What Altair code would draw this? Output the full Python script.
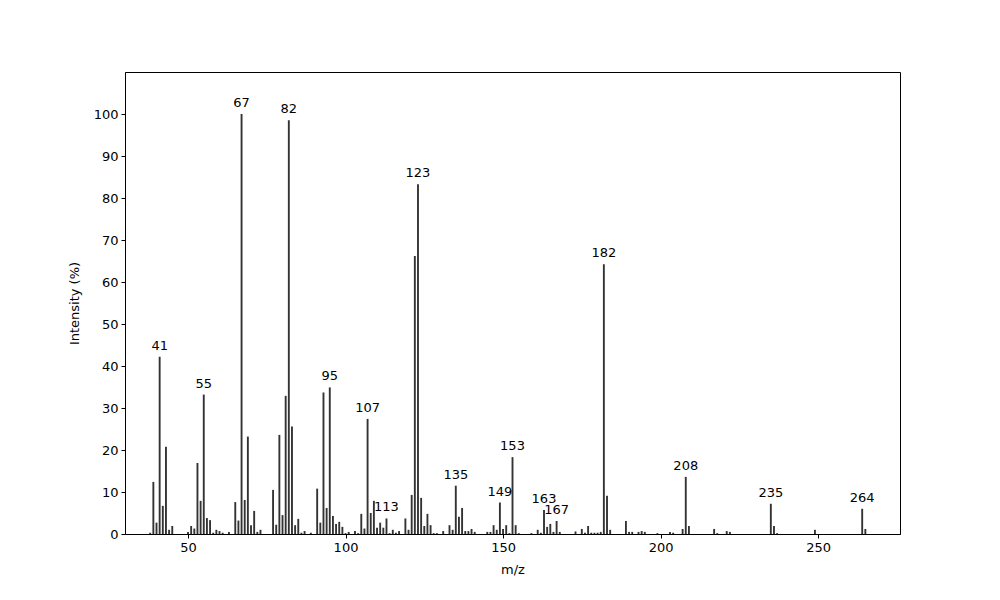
import altair as alt
import pandas as pd

mz = [38, 39, 40, 41, 42, 43, 44, 45,
      50, 51, 52, 53, 54, 55, 56, 57, 58, 59, 60, 61, 63,
      65, 66, 67, 68, 69, 70, 71, 72, 73,
      77, 78, 79, 80, 81, 82, 83, 84, 85, 86, 87, 89,
      91, 92, 93, 94, 95, 96, 97, 98, 99, 100, 101, 103, 104, 105, 106, 107, 108, 109,
      110, 111, 112, 113, 114, 115, 116, 117, 119, 120, 121, 122, 123, 124, 125, 126, 127,
      128, 129, 131, 133, 134, 135, 136, 137, 138, 139, 140, 141, 145, 146, 147, 148, 149,
      150, 151, 152, 153, 154, 155, 159, 161, 162, 163, 164, 165, 166, 167, 168,
      173, 175, 176, 177, 178, 179, 180, 181, 182, 183, 184, 189, 190, 191, 193, 194, 195,
      199, 203, 204, 207, 208, 209, 217, 218, 221, 222, 235, 236, 237, 249, 264, 265]

intensity = [0.3, 12.4, 2.7, 42.2, 6.7, 20.8, 1.0, 1.9,
             0.5, 1.9, 1.3, 16.9, 7.9, 33.2, 3.8, 3.3, 0.3, 1.0, 0.7, 0.3, 0.5,
             7.6, 3.2, 100.0, 8.1, 23.2, 2.1, 5.5, 0.5, 1.0,
             10.5, 2.2, 23.6, 4.5, 32.9, 98.5, 25.6, 2.1, 3.6, 0.3, 0.7, 0.3,
             10.8, 2.7, 33.7, 6.2, 34.9, 4.3, 2.4, 2.9, 1.7, 0.2, 0.5, 0.7, 0.2, 4.8, 1.3, 27.4, 5.0, 7.9,
             1.5, 2.7, 1.5, 3.7, 0.2, 1.0, 0.3, 0.7, 3.7, 1.0, 9.3, 66.2, 83.3, 8.6, 1.9, 4.8, 2.1,
             0.2, 0.2, 0.7, 2.1, 1.0, 11.5, 4.1, 6.2, 0.7, 0.7, 1.2, 0.5, 0.5, 0.5, 2.1, 1.0, 7.5,
             1.2, 2.1, 0.2, 18.3, 2.1, 0.2, 0.2, 1.0, 0.3, 5.7, 1.7, 2.4, 0.5, 3.1, 0.5,
             0.6, 1.2, 0.3, 1.9, 0.3, 0.3, 0.3, 0.5, 64.2, 9.1, 1.0, 3.1, 0.5, 0.5, 0.5, 0.7, 0.5,
             0.2, 0.5, 0.3, 1.2, 13.6, 1.9, 1.2, 0.2, 0.7, 0.5, 7.2, 1.9, 0.2, 1.0, 6.0, 1.2]

labeled_peaks = [41, 55, 67, 82, 95, 107, 113, 123, 135, 149, 153, 163, 167, 182, 208, 235, 264]

y_ticks = [0, 10, 20, 30, 40, 50, 60, 70, 80, 90, 100]
x_ticks = [50, 100, 150, 200, 250]

df = pd.DataFrame({"mz": mz, "intensity": intensity})
lookup = dict(zip(mz, intensity))
lab = pd.DataFrame({"mz": labeled_peaks,
                    "intensity": [lookup[m] for m in labeled_peaks],
                    "label": [str(m) for m in labeled_peaks]})

FONT = "DejaVu Sans"
xscale = alt.Scale(domain=[30.0, 276.0], nice=False, zero=False)
yscale = alt.Scale(domain=[0, 110], nice=False)

bars = alt.Chart(df).transform_calculate(
    x1="datum.mz - 0.3", x2="datum.mz + 0.3", base="0"
).mark_rect(color="#333333").encode(
    x=alt.X("x1:Q", scale=xscale,
            axis=alt.Axis(title="m/z", values=x_ticks, format="d")),
    x2="x2:Q",
    y=alt.Y("intensity:Q", scale=yscale,
            axis=alt.Axis(title="Intensity (%)", values=y_ticks, format="d")),
    y2="base:Q",
)

texts = alt.Chart(lab).mark_text(
    align="center", baseline="bottom", dy=-4, fontSize=13, font=FONT, color="black"
).encode(
    x=alt.X("mz:Q", scale=xscale),
    y=alt.Y("intensity:Q", scale=yscale),
    text="label:N",
)

chart = alt.layer(bars, texts).properties(
    width=775, height=462,
    autosize=alt.AutoSizeParams(type="none"),
    padding={"left": 117, "top": 64, "right": 92, "bottom": 58},
).configure_view(
    stroke="black", strokeWidth=1
).configure_axis(
    grid=False, domainColor="black", tickColor="black", tickSize=4,
    labelFont=FONT, labelFontSize=13, labelColor="black", labelPadding=3,
    titleFont=FONT, titleFontSize=13, titleFontWeight="normal", titleColor="black",
).configure_axisY(titlePadding=12).configure_axisX(titlePadding=9)

chart.save("out.html", embed_options={"renderer": "svg", "actions": False})
